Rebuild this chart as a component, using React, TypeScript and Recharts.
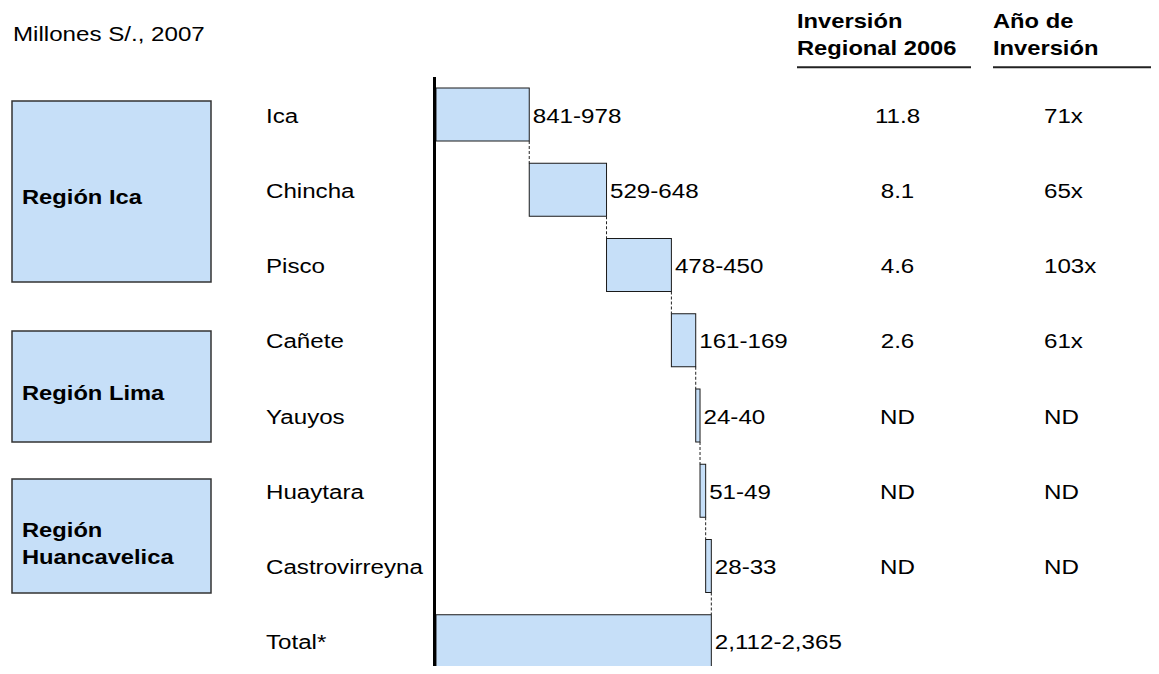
import { Bar, BarChart, LabelList, XAxis, YAxis } from "recharts";

// rows of the waterfall, top to bottom
const categories = [
  "Ica",
  "Chincha",
  "Pisco",
  "Cañete",
  "Yauyos",
  "Huaytara",
  "Castrovirreyna",
  "Total*",
];

// step sizes (millones S/.)
const increments = [759, 629, 528, 198, 35, 46, 46];

const rangeLabels = [
  "841-978",
  "529-648",
  "478-450",
  "161-169",
  "24-40",
  "51-49",
  "28-33",
  "2,112-2,365",
];

const inversionRegional = ["11.8", "8.1", "4.6", "2.6", "ND", "ND", "ND", ""];
const anosInversion = ["71x", "65x", "103x", "61x", "ND", "ND", "ND", ""];

const regionNames = [["Región Ica"], ["Región Lima"], ["Región", "Huancavelica"]];

const FONT = "'Liberation Sans', Arial, sans-serif";
const STRETCH = "scale(1.15 1)";
const BLUE = "#c6dff8";

const CHART_H = 680;
const MARGIN = { top: 77, right: 379, bottom: 1, left: 0 };
const BAND = (CHART_H - MARGIN.top - MARGIN.bottom) / categories.length;

const total = increments.reduce((a, b) => a + b, 0);

let running = 0;
const data = categories.map((name, i) => {
  if (i === increments.length) {
    return { name, base: 0, value: total, range: rangeLabels[i] };
  }
  const row = { name, base: running, value: increments[i], range: rangeLabels[i] };
  running += increments[i];
  return row;
});

const regionBoxes = [
  { top: 101, height: 181, baselines: [204.3] },
  { top: 331, height: 111, baselines: [400] },
  { top: 479, height: 114, baselines: [536.7, 564.3] },
];

function StepBar(props: any) {
  const { x, y, width, height, index } = props;
  const last = index === categories.length - 1;
  return (
    <g>
      <rect x={x} y={y} width={width} height={height} fill={BLUE} stroke="#1a1a1a" strokeWidth={1} />
      {!last && (
        <line
          x1={x + width}
          x2={x + width}
          y1={y + height}
          y2={y + BAND}
          stroke="#222"
          strokeWidth={1}
          strokeDasharray="3 2"
        />
      )}
    </g>
  );
}

function RangeLabel(props: any) {
  const vb = props.viewBox && props.viewBox.width !== undefined ? props.viewBox : props;
  const x = vb.x + vb.width + 3.5;
  const y = vb.y + vb.height / 2 + 8;
  return (
    <text transform={`translate(${x} ${y}) ${STRETCH}`} fontSize={21} fontFamily={FONT} fill="#000">
      {props.value}
    </text>
  );
}

function RowTick(props: any) {
  const { y, payload } = props;
  const i = categories.indexOf(payload.value);
  const base = y + 8;
  return (
    <g fontFamily={FONT} fontSize={21} fill="#000">
      <text transform={`translate(266 ${base}) ${STRETCH}`}>{payload.value}</text>
      <text transform={`translate(897.5 ${base}) ${STRETCH}`} textAnchor="middle">
        {inversionRegional[i]}
      </text>
      <text transform={`translate(1044 ${base}) ${STRETCH}`}>{anosInversion[i]}</text>
    </g>
  );
}

function Annotations() {
  return (
    <svg
      width={1159}
      height={674}
      style={{ position: "absolute", left: 0, top: 0 }}
      fontFamily={FONT}
    >
      <text transform={`translate(13 40.7) ${STRETCH}`} fontSize={21} fill="#000">
        Millones S/., 2007
      </text>

      <g fontSize={21} fontWeight="bold" fill="#000">
        <text transform="translate(797 28.3) scale(1.13 1)">Inversión</text>
        <text transform="translate(797 55) scale(1.13 1)">Regional 2006</text>
        <text transform="translate(993 28.3) scale(1.13 1)">Año de</text>
        <text transform="translate(993 55) scale(1.13 1)">Inversión</text>
      </g>
      <line x1={797} x2={971} y1={67.3} y2={67.3} stroke="#222" strokeWidth={2} />
      <line x1={993} x2={1159} y1={67.3} y2={67.3} stroke="#222" strokeWidth={2} />

      {regionBoxes.map((box, i) => (
        <g key={i}>
          <rect
            x={12}
            y={box.top}
            width={199}
            height={box.height}
            fill={BLUE}
            stroke="#333"
            strokeWidth={1.5}
          />
          {regionNames[i].map((line, j) => (
            <text
              key={j}
              transform={`translate(22 ${box.baselines[j]}) scale(1.13 1)`}
              fontSize={21}
              fontWeight="bold"
              fill="#000"
            >
              {line}
            </text>
          ))}
        </g>
      ))}
    </svg>
  );
}

export default function App() {
  return (
    <div
      style={{
        position: "relative",
        width: 1159,
        height: 674,
        margin: -8,
        overflow: "hidden",
        background: "#fff",
        fontFamily: FONT,
      }}
    >
      <Annotations />
      <div style={{ position: "absolute", left: 0, top: 0 }}>
        <BarChart width={1159} height={CHART_H} data={data} layout="vertical" margin={MARGIN}>
          <XAxis type="number" hide domain={[0, 2800]} />
          <YAxis
            type="category"
            dataKey="name"
            width={436}
            interval={0}
            tickLine={false}
            axisLine={{ stroke: "#000", strokeWidth: 3, transform: "translate(-1.5 0)" }}
            tick={<RowTick />}
          />
          <Bar dataKey="base" stackId="w" fill="transparent" barSize={53} isAnimationActive={false} />
          <Bar
            dataKey="value"
            stackId="w"
            barSize={53}
            shape={<StepBar />}
            isAnimationActive={false}
          >
            <LabelList dataKey="range" content={<RangeLabel />} />
          </Bar>
        </BarChart>
      </div>
    </div>
  );
}
